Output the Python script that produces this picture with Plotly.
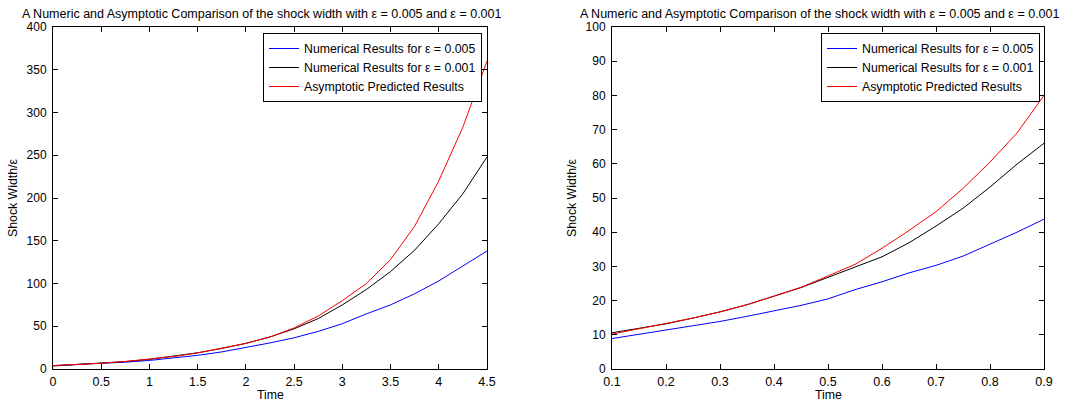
import plotly.graph_objects as go

# ---- Left panel data (time 0..4.5) ----
t_left = [0, 0.25, 0.5, 0.75, 1, 1.25, 1.5, 1.75, 2, 2.25, 2.5, 2.75, 3, 3.25, 3.5, 3.75, 4, 4.25, 4.5]
blue_left = [4, 5.2, 6.5, 8, 10, 12.8, 16, 20, 25, 30.5, 36.5, 44, 53, 64.5, 75, 88, 103, 121, 138]
black_left = [3.5, 5, 6.6, 8.7, 11.3, 14.8, 19, 24, 30, 37.5, 47, 59, 75, 93, 114, 139, 170, 205, 248]
red_left = [4, 5.2, 6.8, 8.8, 11.3, 14.6, 18.8, 24, 30, 37.5, 48, 62, 80, 100, 128, 167, 220, 283, 360]

# ---- Right panel data (time 0.1..0.9) ----
t_right = [0.1, 0.15, 0.2, 0.25, 0.3, 0.35, 0.4, 0.45, 0.5, 0.55, 0.6, 0.65, 0.7, 0.75, 0.8, 0.85, 0.9]
blue_right = [8.9, 10.1, 11.3, 12.6, 13.9, 15.4, 17.0, 18.6, 20.5, 23.2, 25.5, 28.1, 30.3, 33.0, 36.5, 40.0, 43.8]
black_right = [10.6, 11.9, 13.2, 14.9, 16.7, 18.8, 21.3, 23.8, 26.8, 29.7, 32.8, 36.9, 41.8, 47.0, 53.2, 59.9, 66.0]
red_right = [10.2, 11.7, 13.2, 14.9, 16.7, 18.8, 21.3, 23.9, 27.2, 30.6, 35.3, 40.5, 46.0, 52.8, 60.5, 69.0, 80.0]

names = ["Numerical Results for ε = 0.005", "Numerical Results for ε = 0.001", "Asymptotic Predicted Results"]
colors = ["#0000FF", "#000000", "#FF0000"]
title_text = "A Numeric and Asymptotic Comparison of the shock width with ε = 0.005 and ε = 0.001"
x_title = "Time"
y_title = "Shock Width/ε"

FONT = "Liberation Sans, Arial, sans-serif"

fig = go.Figure()
for ys, name, col in zip([blue_left, black_left, red_left], names, colors):
    fig.add_trace(go.Scatter(x=t_left, y=ys, mode="lines", name=name,
                             line=dict(color=col, width=1), xaxis="x", yaxis="y", legend="legend"))
for ys, name, col in zip([blue_right, black_right, red_right], names, colors):
    fig.add_trace(go.Scatter(x=t_right, y=ys, mode="lines", name=name,
                             line=dict(color=col, width=1), xaxis="x2", yaxis="y2", legend="legend2"))

W, H = 1072, 403
top, bottom = 27, 369
ydom = [(H - bottom) / H, (H - top) / H]
L1, R1 = 53, 487
L2, R2 = 612, 1044

axis_common = dict(showline=True, linecolor="black", linewidth=1, mirror="ticks", automargin=False,
                   ticks="inside", ticklen=5, tickcolor="black", showgrid=False, zeroline=False)
xfont = dict(family=FONT, size=12.5, color="black")
yfont = dict(family=FONT, size=12, color="black")

fig.update_layout(
    width=W, height=H,
    margin=dict(l=0, r=0, t=0, b=0),
    paper_bgcolor="white", plot_bgcolor="white",
    font=dict(family=FONT, size=12, color="black"),
    xaxis=dict(domain=[L1 / W, R1 / W], range=[0, 4.5], tickvals=[0, 0.5, 1, 1.5, 2, 2.5, 3, 3.5, 4, 4.5],
               ticktext=["0", "0.5", "1", "1.5", "2", "2.5", "3", "3.5", "4", "4.5"],
               anchor="y", tickfont=xfont, ticklabelstandoff=1, **axis_common),
    yaxis=dict(domain=ydom, range=[0, 400], tickvals=list(range(0, 401, 50)),
               anchor="x", tickfont=yfont, ticklabelstandoff=3, **axis_common),
    xaxis2=dict(domain=[L2 / W, R2 / W], range=[0.1, 0.9],
                tickvals=[0.1, 0.2, 0.3, 0.4, 0.5, 0.6, 0.7, 0.8, 0.9],
                ticktext=["0.1", "0.2", "0.3", "0.4", "0.5", "0.6", "0.7", "0.8", "0.9"],
                anchor="y2", tickfont=xfont, ticklabelstandoff=1, **axis_common),
    yaxis2=dict(domain=ydom, range=[0, 100], tickvals=list(range(0, 101, 10)),
                anchor="x2", tickfont=yfont, ticklabelstandoff=3, **axis_common),
    legend=dict(x=482 / W, y=(H - 33) / H, xanchor="right", yanchor="top",
                bordercolor="black", borderwidth=1, bgcolor="white",
                font=dict(family=FONT, size=12.3), tracegroupgap=0, itemwidth=30),
    legend2=dict(x=1040 / W, y=(H - 33) / H, xanchor="right", yanchor="top",
                 bordercolor="black", borderwidth=1, bgcolor="white",
                 font=dict(family=FONT, size=12.3), tracegroupgap=0, itemwidth=30),
    showlegend=True,
)

ann = []
for (L, R) in [(L1, R1), (L2, R2)]:
    cx = (L + R) / 2 / W
    ann.append(dict(text=title_text, x=(L + R) / 2 / W - 8 / W, y=(H - 14) / H, xref="paper", yref="paper",
                    showarrow=False, xanchor="center", yanchor="middle", font=dict(family=FONT, size=12.5)))
    ann.append(dict(text=x_title, x=cx, y=(H - 395) / H, xref="paper", yref="paper",
                    showarrow=False, xanchor="center", yanchor="middle", font=dict(family=FONT, size=12.3)))
    ann.append(dict(text=y_title, x=(L - 40) / W, y=(ydom[0] + ydom[1]) / 2, xref="paper", yref="paper",
                    showarrow=False, xanchor="center", yanchor="middle", textangle=-90,
                    font=dict(family=FONT, size=12.3)))
fig.update_layout(annotations=ann)

fig.write_html("out.html", config={"displayModeBar": False},
               post_script="document.body.style.margin='0px';")
